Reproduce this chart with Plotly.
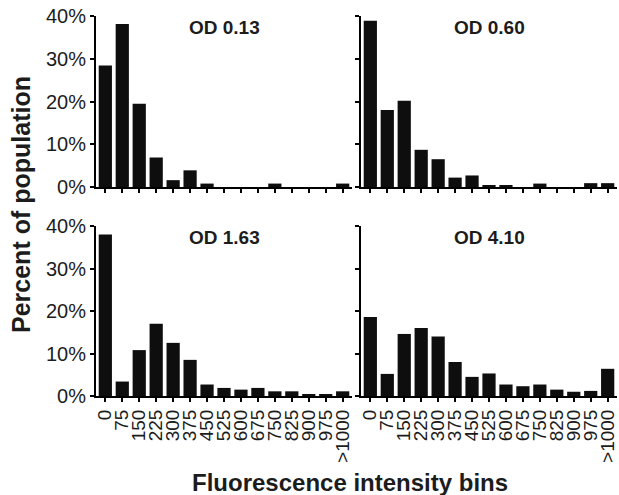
import plotly.graph_objects as go

# Fluorescence intensity bins (category labels)
bins = ["0", "75", "150", "225", "300", "375", "450", "525", "600",
        "675", "750", "825", "900", "975", ">1000"]

# Percent of population in each bin, one list per culture density
od_013 = [28.4, 38.1, 19.5, 6.9, 1.6, 3.9, 0.8, 0, 0, 0, 0.8, 0, 0, 0, 0.8]
od_060 = [38.9, 18.0, 20.2, 8.7, 6.5, 2.2, 2.7, 0.4, 0.4, 0, 0.8, 0, 0, 0.9, 0.9]
od_163 = [38.0, 3.4, 10.8, 17.0, 12.5, 8.5, 2.7, 1.9, 1.5, 1.9, 1.1, 1.1, 0.4, 0.4, 1.1]
od_410 = [18.6, 5.2, 14.6, 16.0, 14.0, 8.0, 4.5, 5.3, 2.7, 2.3, 2.7, 1.5, 1.0, 1.2, 6.4]

panel_titles = ["OD 0.13", "OD 0.60", "OD 1.63", "OD 4.10"]
series = [od_013, od_060, od_163, od_410]

y_ticks = [0, 10, 20, 30, 40]
y_tick_text = ["0%", "10%", "20%", "30%", "40%"]

FONT = "Liberation Sans, Arial, Helvetica, sans-serif"
INK = "#1c1c1c"
BAR = "#0e0e0e"

W, H = 619, 495
x_domains = [[96 / W, 352 / W], [361 / W, 617 / W]]
y_domains = [[(H - 187) / H, (H - 16) / H], [(H - 396) / H, (H - 226) / H]]

fig = go.Figure()

for i, (vals, title) in enumerate(zip(series, panel_titles)):
    row, col = divmod(i, 2)
    n = i + 1
    xa = "x" if n == 1 else f"x{n}"
    ya = "y" if n == 1 else f"y{n}"
    fig.add_trace(go.Bar(
        x=bins, y=vals, xaxis=xa, yaxis=ya,
        marker=dict(color=BAR, line=dict(width=0)),
        showlegend=False,
    ))

    xkey = "xaxis" if n == 1 else f"xaxis{n}"
    ykey = "yaxis" if n == 1 else f"yaxis{n}"
    fig.update_layout({
        xkey: dict(
            domain=x_domains[col], anchor=ya, type="category",
            categoryorder="array", categoryarray=bins,
            tickmode="array", tickvals=bins, ticktext=bins,
            range=[-0.55, 14.55], showline=True, linecolor="black",
            linewidth=2, ticks="outside", ticklen=4, tickwidth=1.5,
            tickcolor="black", showgrid=False, zeroline=False,
            showticklabels=(row == 1), tickangle=-90,
            tickfont=dict(family=FONT, size=19, color=INK),
            automargin=False,
        ),
        ykey: dict(
            domain=y_domains[row], anchor=xa, range=[0, 40],
            tickmode="array", tickvals=y_ticks, ticktext=y_tick_text,
            showline=True, linecolor="black", linewidth=2,
            ticks="outside", ticklen=4, tickwidth=1.5, tickcolor="black",
            showgrid=False, zeroline=False, showticklabels=(col == 0),
            tickfont=dict(family=FONT, size=20, color=INK),
            automargin=False,
        ),
    })

    fig.add_annotation(
        text=f"<b>{title}</b>", xref=f"{xa} domain", yref=f"{ya} domain",
        x=0.5, y=0.93, xanchor="center", yanchor="middle", showarrow=False,
        font=dict(family=FONT, size=19, color=INK),
    )

# Shared axis titles
fig.add_annotation(
    text="<b>Percent of population</b>", xref="paper", yref="paper",
    x=21 / W, y=(H - 205) / H, textangle=-90, showarrow=False,
    xanchor="center", yanchor="middle",
    font=dict(family=FONT, size=25, color=INK),
)
fig.add_annotation(
    text="<b>Fluorescence intensity bins</b>", xref="paper", yref="paper",
    x=350 / W, y=(H - 482) / H, showarrow=False,
    xanchor="center", yanchor="middle",
    font=dict(family=FONT, size=24, color=INK),
)

fig.update_layout(
    width=W, height=H, margin=dict(l=0, r=0, t=0, b=0),
    paper_bgcolor="white", plot_bgcolor="white", bargap=0.22,
)

fig.write_html("out.html")
